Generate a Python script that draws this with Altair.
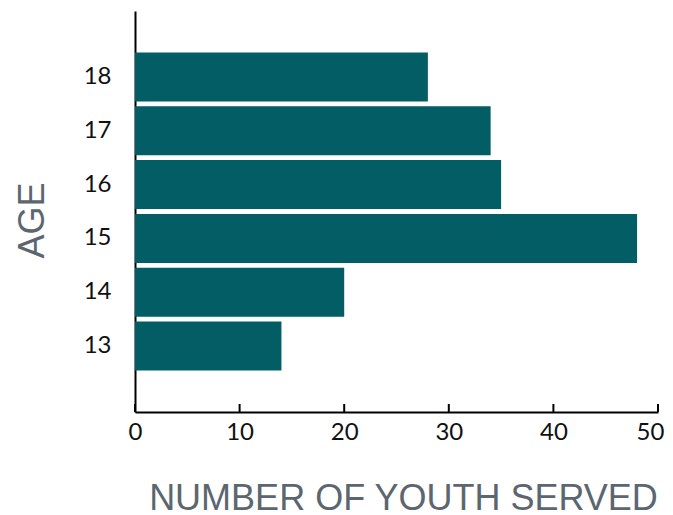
import altair as alt
import pandas as pd

ages = ["18", "17", "16", "15", "14", "13"]
youth_served = [28, 34, 35, 48, 20, 14]
x_ticks = [0, 10, 20, 30, 40, 50]

df = pd.DataFrame({"age": ages, "count": youth_served})
ticks_df = pd.DataFrame({"tick": x_ticks})

x_scale = alt.Scale(domain=[0, 50], nice=False)

bars = alt.Chart(df).mark_bar(color="#025e64").encode(
    y=alt.Y("age:N", sort=ages,
            scale=alt.Scale(paddingInner=0.089, paddingOuter=0.77),
            axis=alt.Axis(title="AGE", ticks=False, labelPadding=24,
                          labelFont="Lato", labelFontSize=24, labelColor="#111111",
                          labelFontWeight="normal",
                          domainColor="#000000", domainWidth=2,
                          titleFont="Liberation Sans", titleFontSize=36,
                          titleFontWeight="normal", titleColor="#5c6670",
                          titlePadding=32, titleY=209)),
    x=alt.X("count:Q", scale=x_scale,
            axis=alt.Axis(title="NUMBER OF YOUTH SERVED", values=x_ticks,
                          grid=False, ticks=False, labelFlush=False,
                          labelPadding=8,
                          labelOffset=alt.ExprRef(expr="datum.value == 50 ? -8 : 0"),
                          labelFont="Lato", labelFontSize=24, labelColor="#111111",
                          domainColor="#000000", domainWidth=2,
                          titleFont="Liberation Sans", titleFontSize=36,
                          titleFontWeight="normal", titleColor="#5c6670",
                          titlePadding=37, titleX=268)),
)

tick_marks = alt.Chart(ticks_df).mark_rule(color="#000000", strokeWidth=2).encode(
    x=alt.X("tick:Q", scale=x_scale),
    y=alt.value(393),
    y2=alt.value(401),
)

chart = alt.layer(bars, tick_marks).properties(
    width=523, height=401,
    padding={"left": 127, "top": 3, "right": 7, "bottom": 103},
    autosize=alt.AutoSizeParams(type="none"),
).configure_view(stroke=None)

chart.save("out.html", embed_options={"renderer": "svg", "actions": False})
